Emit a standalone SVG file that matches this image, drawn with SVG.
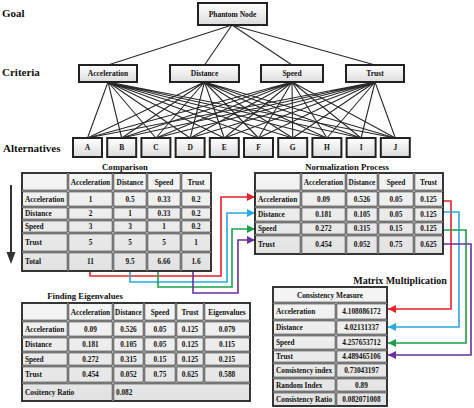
<svg xmlns="http://www.w3.org/2000/svg" width="474" height="408" viewBox="0 0 474 408">
<style>
.t{font-family:"Liberation Serif","Times New Roman","DejaVu Serif",serif;font-weight:bold;fill:#111}
.lbl{font-size:11px}
.nd{font-size:7.5px;text-anchor:middle}
.c{font-size:7.3px;text-anchor:middle}
.l{font-size:7.3px}
.ttl{font-size:8.7px;text-anchor:middle}
.mm{font-size:10px;text-anchor:middle}
.box{fill:url(#g);stroke:#222;stroke-width:2}
.tb{fill:url(#cg);stroke:#222;stroke-width:1.8}
.gd{fill:none;stroke:#2b2b2b;stroke-width:2.4}
.gw{fill:none;stroke:#fff;stroke-width:0.7}
.edge{stroke:#2a2a2a;stroke-width:1.1;fill:none}
.cn{fill:none;stroke-width:1.6}
</style>
<defs>
<linearGradient id="g" x1="0" y1="0" x2="0" y2="1"><stop offset="0" stop-color="#ffffff"/><stop offset="1" stop-color="#dcdcdc"/></linearGradient>
<linearGradient id="cg" x1="0" y1="0" x2="0" y2="1"><stop offset="0" stop-color="#f5f5f5"/><stop offset="1" stop-color="#e2e2e2"/></linearGradient>
<marker id="mr" viewBox="0 0 10 10" refX="10" refY="5" markerUnits="userSpaceOnUse" markerWidth="9" markerHeight="8" orient="auto"><path d="M0,0 L10,5 L0,10 z" fill="#e8202a"/></marker>
<marker id="mb" viewBox="0 0 10 10" refX="10" refY="5" markerUnits="userSpaceOnUse" markerWidth="9" markerHeight="8" orient="auto"><path d="M0,0 L10,5 L0,10 z" fill="#29a9e0"/></marker>
<marker id="mg" viewBox="0 0 10 10" refX="10" refY="5" markerUnits="userSpaceOnUse" markerWidth="9" markerHeight="8" orient="auto"><path d="M0,0 L10,5 L0,10 z" fill="#1ca14a"/></marker>
<marker id="mp" viewBox="0 0 10 10" refX="10" refY="5" markerUnits="userSpaceOnUse" markerWidth="9" markerHeight="8" orient="auto"><path d="M0,0 L10,5 L0,10 z" fill="#6b2fa0"/></marker>
</defs>
<rect width="474" height="408" fill="#fff"/>

<g id="level-labels">
<text class="t lbl" x="2" y="17">Goal</text>
<text class="t lbl" x="2" y="75.5">Criteria</text>
<text class="t lbl" x="3" y="152">Alternatives</text>
</g>

<g id="connectors">
<path class="edge" d="M232,25 L108,65 M232,25 L204.5,65 M232,25 L292,65 M232,25 L375,65"/>
<path class="edge" d="M108,82 L87.5,138 M108,82 L121.7,138 M108,82 L155.9,138 M108,82 L190.1,138 M108,82 L224.3,138 M108,82 L258.5,138 M108,82 L292.7,138 M108,82 L326.9,138 M108,82 L361.1,138 M108,82 L395.3,138"/>
<path class="edge" d="M204.5,82 L87.5,138 M204.5,82 L121.7,138 M204.5,82 L155.9,138 M204.5,82 L190.1,138 M204.5,82 L224.3,138 M204.5,82 L258.5,138 M204.5,82 L292.7,138 M204.5,82 L326.9,138 M204.5,82 L361.1,138 M204.5,82 L395.3,138"/>
<path class="edge" d="M292,82 L87.5,138 M292,82 L121.7,138 M292,82 L155.9,138 M292,82 L190.1,138 M292,82 L224.3,138 M292,82 L258.5,138 M292,82 L292.7,138 M292,82 L326.9,138 M292,82 L361.1,138 M292,82 L395.3,138"/>
<path class="edge" d="M375,82 L87.5,138 M375,82 L121.7,138 M375,82 L155.9,138 M375,82 L190.1,138 M375,82 L224.3,138 M375,82 L258.5,138 M375,82 L292.7,138 M375,82 L326.9,138 M375,82 L361.1,138 M375,82 L395.3,138"/>
<path d="M11,185 V254" stroke="#333" stroke-width="2" fill="none"/>
<polygon points="6.5,252 15.5,252 11,264" fill="#333"/>
<path class="cn" stroke="#e8202a" marker-end="url(#mr)" d="M90,271 V276 H221 V197 H255"/>
<path class="cn" stroke="#29a9e0" marker-end="url(#mb)" d="M130,271 V282 H227 V213 H255"/>
<path class="cn" stroke="#1ca14a" marker-end="url(#mg)" d="M158,271 V287 H232 V229 H255"/>
<path class="cn" stroke="#6b2fa0" marker-end="url(#mp)" d="M193,271 V293 H238 V240 H255"/>
<path class="cn" stroke="#e8202a" marker-end="url(#mr)" d="M443,201 H451 V309 H388"/>
<path class="cn" stroke="#29a9e0" marker-end="url(#mb)" d="M443,212 H459 V327 H388"/>
<path class="cn" stroke="#1ca14a" marker-end="url(#mg)" d="M443,230 H466 V343 H388"/>
<path class="cn" stroke="#6b2fa0" marker-end="url(#mp)" d="M443,244 H471 V355 H388"/>
</g>

<g id="phantom-node"><rect class="box" x="198" y="3" width="69" height="22"/><text class="t nd" x="232.5" y="16.5">Phantom Node</text></g>
<g id="crit-acceleration"><rect class="box" x="79" y="65" width="58" height="17"/><text class="t nd" x="108" y="76">Acceleration</text></g>
<g id="crit-distance"><rect class="box" x="170" y="65" width="69" height="17"/><text class="t nd" x="204.5" y="76">Distance</text></g>
<g id="crit-speed"><rect class="box" x="261" y="65" width="62" height="17"/><text class="t nd" x="292" y="76">Speed</text></g>
<g id="crit-trust"><rect class="box" x="346" y="65" width="58" height="17"/><text class="t nd" x="375" y="76">Trust</text></g>

<g id="alt-A"><rect class="box" x="73" y="138" width="29" height="19"/><text class="t nd" x="87.5" y="150">A</text></g>
<g id="alt-B"><rect class="box" x="107.2" y="138" width="29" height="19"/><text class="t nd" x="121.7" y="150">B</text></g>
<g id="alt-C"><rect class="box" x="141.4" y="138" width="29" height="19"/><text class="t nd" x="155.9" y="150">C</text></g>
<g id="alt-D"><rect class="box" x="175.6" y="138" width="29" height="19"/><text class="t nd" x="190.1" y="150">D</text></g>
<g id="alt-E"><rect class="box" x="209.8" y="138" width="29" height="19"/><text class="t nd" x="224.3" y="150">E</text></g>
<g id="alt-F"><rect class="box" x="244" y="138" width="29" height="19"/><text class="t nd" x="258.5" y="150">F</text></g>
<g id="alt-G"><rect class="box" x="278.2" y="138" width="29" height="19"/><text class="t nd" x="292.7" y="150">G</text></g>
<g id="alt-H"><rect class="box" x="312.4" y="138" width="29" height="19"/><text class="t nd" x="326.9" y="150">H</text></g>
<g id="alt-I"><rect class="box" x="346.6" y="138" width="29" height="19"/><text class="t nd" x="361.1" y="150">I</text></g>
<g id="alt-J"><rect class="box" x="380.8" y="138" width="29" height="19"/><text class="t nd" x="395.3" y="150">J</text></g>

<g id="comparison-table">
<text class="t ttl" x="125" y="170">Comparison</text>
<rect class="tb" x="22" y="173" width="189" height="98"/>
<path class="gd" d="M68,173V271M113,173V271M147,173V271M181,173V271M22,191H211M22,207H211M22,220H211M22,233H211M22,252H211"/>
<path class="gw" d="M68,173V271M113,173V271M147,173V271M181,173V271M22,191H211M22,207H211M22,220H211M22,233H211M22,252H211"/>
<text class="t c" x="90.5" y="184.6">Acceleration</text><text class="t c" x="130" y="184.6">Distance</text><text class="t c" x="164" y="184.6">Speed</text><text class="t c" x="196" y="184.6">Trust</text>
<text class="t l" x="25" y="201.6">Acceleration</text><text class="t c" x="90.5" y="201.6">1</text><text class="t c" x="130" y="201.6">0.5</text><text class="t c" x="164" y="201.6">0.33</text><text class="t c" x="196" y="201.6">0.2</text>
<text class="t l" x="25" y="216">Distance</text><text class="t c" x="90.5" y="216">2</text><text class="t c" x="130" y="216">1</text><text class="t c" x="164" y="216">0.33</text><text class="t c" x="196" y="216">0.2</text>
<text class="t l" x="25" y="229">Speed</text><text class="t c" x="90.5" y="229">3</text><text class="t c" x="130" y="229">3</text><text class="t c" x="164" y="229">1</text><text class="t c" x="196" y="229">0.2</text>
<text class="t l" x="25" y="245">Trust</text><text class="t c" x="90.5" y="245">5</text><text class="t c" x="130" y="245">5</text><text class="t c" x="164" y="245">5</text><text class="t c" x="196" y="245">1</text>
<text class="t l" x="25" y="264">Total</text><text class="t c" x="90.5" y="264">11</text><text class="t c" x="130" y="264">9.5</text><text class="t c" x="164" y="264">6.66</text><text class="t c" x="196" y="264">1.6</text>
</g>

<g id="normalization-table">
<text class="t ttl" x="347" y="170">Normalization Process</text>
<rect class="tb" x="255" y="173" width="188" height="81"/>
<path class="gd" d="M301,173V254M346,173V254M378,173V254M414,173V254M255,191H443M255,207H443M255,222H443M255,235H443"/>
<path class="gw" d="M301,173V254M346,173V254M378,173V254M414,173V254M255,191H443M255,207H443M255,222H443M255,235H443"/>
<text class="t c" x="323.5" y="184.6">Acceleration</text><text class="t c" x="362" y="184.6">Distance</text><text class="t c" x="396" y="184.6">Speed</text><text class="t c" x="428.5" y="184.6">Trust</text>
<text class="t l" x="258" y="201.6">Acceleration</text><text class="t c" x="323.5" y="201.6">0.09</text><text class="t c" x="362" y="201.6">0.526</text><text class="t c" x="396" y="201.6">0.05</text><text class="t c" x="428.5" y="201.6">0.125</text>
<text class="t l" x="258" y="217">Distance</text><text class="t c" x="323.5" y="217">0.181</text><text class="t c" x="362" y="217">0.105</text><text class="t c" x="396" y="217">0.05</text><text class="t c" x="428.5" y="217">0.125</text>
<text class="t l" x="258" y="231">Speed</text><text class="t c" x="323.5" y="231">0.272</text><text class="t c" x="362" y="231">0.315</text><text class="t c" x="396" y="231">0.15</text><text class="t c" x="428.5" y="231">0.125</text>
<text class="t l" x="258" y="247">Trust</text><text class="t c" x="323.5" y="247">0.454</text><text class="t c" x="362" y="247">0.052</text><text class="t c" x="396" y="247">0.75</text><text class="t c" x="428.5" y="247">0.625</text>
</g>

<g id="eigenvalues-table">
<text class="t ttl" x="85" y="298.5">Finding Eigenvalues</text>
<rect class="tb" x="22" y="303" width="228" height="98"/>
<path class="gd" d="M68,303V383M113,303V401M144,303V383M176,303V383M204,303V383M22,321H250M22,337H250M22,352H250M22,366H250M22,383H250"/>
<path class="gw" d="M68,303V383M113,303V401M144,303V383M176,303V383M204,303V383M22,321H250M22,337H250M22,352H250M22,366H250M22,383H250"/>
<text class="t c" x="90.5" y="314.6">Acceleration</text><text class="t c" x="128.5" y="314.6">Distance</text><text class="t c" x="160" y="314.6">Speed</text><text class="t c" x="190" y="314.6">Trust</text><text class="t c" x="227" y="314.6">Eigenvalues</text>
<text class="t l" x="25" y="331.6">Acceleration</text><text class="t c" x="90.5" y="331.6">0.09</text><text class="t c" x="128.5" y="331.6">0.526</text><text class="t c" x="160" y="331.6">0.05</text><text class="t c" x="190" y="331.6">0.125</text><text class="t c" x="227" y="331.6">0.079</text>
<text class="t l" x="25" y="347">Distance</text><text class="t c" x="90.5" y="347">0.181</text><text class="t c" x="128.5" y="347">0.105</text><text class="t c" x="160" y="347">0.05</text><text class="t c" x="190" y="347">0.125</text><text class="t c" x="227" y="347">0.115</text>
<text class="t l" x="25" y="361.6">Speed</text><text class="t c" x="90.5" y="361.6">0.272</text><text class="t c" x="128.5" y="361.6">0.315</text><text class="t c" x="160" y="361.6">0.15</text><text class="t c" x="190" y="361.6">0.125</text><text class="t c" x="227" y="361.6">0.215</text>
<text class="t l" x="25" y="377">Trust</text><text class="t c" x="90.5" y="377">0.454</text><text class="t c" x="128.5" y="377">0.052</text><text class="t c" x="160" y="377">0.75</text><text class="t c" x="190" y="377">0.625</text><text class="t c" x="227" y="377">0.588</text>
<text class="t l" x="25" y="394.6">Cositency Ratio</text><text class="t l" x="116" y="394.6">0.082</text>
</g>

<g id="consistency-table">
<text class="t mm" x="400" y="284">Matrix Multiplication</text>
<rect class="tb" x="273" y="287" width="114" height="119"/>
<path class="gd" d="M336,303V406M273,303H387M273,320H387M273,335H387M273,350H387M273,363H387M273,378H387M273,392H387"/>
<path class="gw" d="M336,303V406M273,303H387M273,320H387M273,335H387M273,350H387M273,363H387M273,378H387M273,392H387"/>
<text class="t c" x="330" y="297.6">Consistency Measure</text>
<text class="t l" x="276" y="314">Acceleration</text><text class="t c" x="361.5" y="314">4.108086172</text>
<text class="t l" x="276" y="330">Distance</text><text class="t c" x="361.5" y="330">4.02131337</text>
<text class="t l" x="276" y="345">Speed</text><text class="t c" x="361.5" y="345">4.257653712</text>
<text class="t l" x="276" y="359">Trust</text><text class="t c" x="361.5" y="359">4.489465106</text>
<text class="t l" x="276" y="373">Consistency index</text><text class="t c" x="361.5" y="373">0.73043197</text>
<text class="t l" x="276" y="387.6">Random Index</text><text class="t c" x="361.5" y="387.6">0.89</text>
<text class="t l" x="276" y="401.6">Consistency Ratio</text><text class="t c" x="361.5" y="401.6">0.082071008</text>
</g>
</svg>
